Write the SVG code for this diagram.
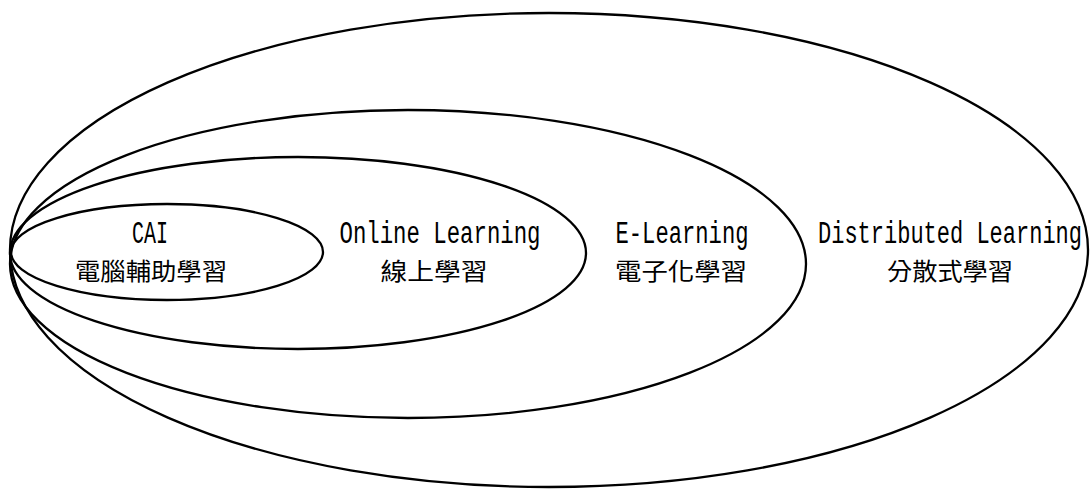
<svg xmlns="http://www.w3.org/2000/svg" width="1091" height="490" viewBox="0 0 1091 490">
<style>
.ring{fill:none;stroke:#000;stroke-width:2.3}
.en{font-family:"Liberation Mono","Noto Sans CJK TC",monospace;font-size:31px;fill:#000;text-anchor:middle}
.zh{font-family:"Noto Sans CJK TC","Noto Sans CJK SC",sans-serif;font-size:24px;fill:#000;text-anchor:middle}
</style>
<rect width="1091" height="490" fill="#fff"/>
<g id="distributed">
<ellipse class="ring" cx="549" cy="250" rx="539" ry="237"/>
<text class="en" x="950" y="243" textLength="264" lengthAdjust="spacingAndGlyphs">Distributed Learning</text>
<text class="zh" x="950" y="280" textLength="126" lengthAdjust="spacingAndGlyphs">分散式學習</text>
</g>
<g id="elearning">
<ellipse class="ring" cx="408" cy="264" rx="398" ry="154"/>
<text class="en" x="682" y="243" textLength="133" lengthAdjust="spacingAndGlyphs">E-Learning</text>
<text class="zh" x="681" y="280" textLength="132" lengthAdjust="spacingAndGlyphs">電子化學習</text>
</g>
<g id="online">
<ellipse class="ring" cx="298" cy="253" rx="288" ry="96"/>
<text class="en" x="440" y="243" textLength="201" lengthAdjust="spacingAndGlyphs">Online Learning</text>
<text class="zh" x="434" y="280" textLength="107" lengthAdjust="spacingAndGlyphs">線上學習</text>
</g>
<g id="cai">
<ellipse class="ring" cx="167" cy="252" rx="156" ry="48"/>
<text class="en" x="150" y="243" textLength="36" lengthAdjust="spacingAndGlyphs">CAI</text>
<text class="zh" x="151" y="280" textLength="152" lengthAdjust="spacingAndGlyphs">電腦輔助學習</text>
</g>
<g id="connectors"></g>
</svg>
